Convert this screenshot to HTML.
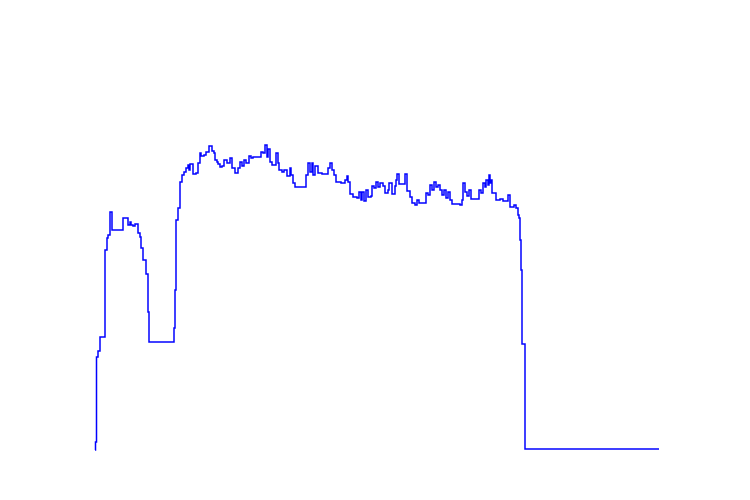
<!DOCTYPE html>
<html><head><meta charset="utf-8"><style>html,body{margin:0;padding:0;background:#fff;}svg{display:block}</style></head>
<body>
<svg id="chart" width="750" height="500" xmlns="http://www.w3.org/2000/svg">
<rect width="750" height="500" fill="#fff"/>
</svg>
<script>
const times = [95,95.5,96.5,98,100,104,105,107,108,110,112,122,123,128,130,131,133,135,138,140,141,143,146,148,149,174,175,176,178,180,182,184,186,188,189,190,193,196,198,200,201,204,206,209,212,214,215,217,218,220,222,224,227,230,232,235,238,240,242,244,246,249,251,253,258,261,263,265,267,268,270,272,275,276,278,279,282,284,287,290,291,293,295,305,306,308,310,312,313,315,318,322,327,328,330,332,334,336,341,345,347,348,350,353,357,359,361,362,364,366,368,371,372,374,376,378,380,383,385,388,389,392,395,396,397,399,404,405,407,410,412,415,417,419,426,428,430,432,434,436,438,440,442,444,446,448,450,452,460,462,463,465,467,469,471,478,479,481,483,485,486,488,489,490,491,492,496,500,503,507,508,510,513,514,516,518,519,520,521,522,524,525,659];
const values = [0,8,93,99,113,113,200,212,215,238,220,220,232,225,228,225,224,226,217,213,202,190,176,138,108,122,160,230,242,268,275,278,282,285,280,286,276,277,287,297,294,295,298,304,299,297,290,288,286,283,284,290,287,292,282,277,282,288,284,290,287,294,292,293,293,298,297,305,293,301,288,285,285,297,287,280,278,280,274,282,275,267,263,263,275,287,278,287,275,284,277,276,276,282,287,280,275,268,267,270,274,268,256,253,252,258,250,258,249,260,253,254,264,262,268,263,267,264,257,260,267,256,264,270,276,266,266,276,259,253,247,245,250,247,257,255,265,260,268,263,265,260,255,260,252,258,250,246,245,250,267,258,254,260,251,251,260,257,267,263,270,265,275,267,270,257,250,251,249,249,255,243,243,245,242,235,232,210,180,106,106,1,1];
const xDomain=[95,659], xRange=[95,659];
const yDomain=[0,300], yRange=[450,150];
function xScale(v){return xRange[0]+(v-xDomain[0])/(xDomain[1]-xDomain[0])*(xRange[1]-xRange[0]);}
function yScale(v){return yRange[0]+(v-yDomain[0])/(yDomain[1]-yDomain[0])*(yRange[1]-yRange[0]);}
let d='M'+xScale(times[0]).toFixed(2)+','+yScale(values[0]).toFixed(2);
for(let i=1;i<times.length;i++){
  d+=' H'+xScale(times[i]).toFixed(2)+' V'+yScale(values[i]).toFixed(2);
}
const p=document.createElementNS('http://www.w3.org/2000/svg','path');
p.setAttribute('d',d);
p.setAttribute('fill','none');
p.setAttribute('stroke','#0000ff');
p.setAttribute('stroke-width','1.5');


document.getElementById('chart').appendChild(p);
</script>
</body></html>
